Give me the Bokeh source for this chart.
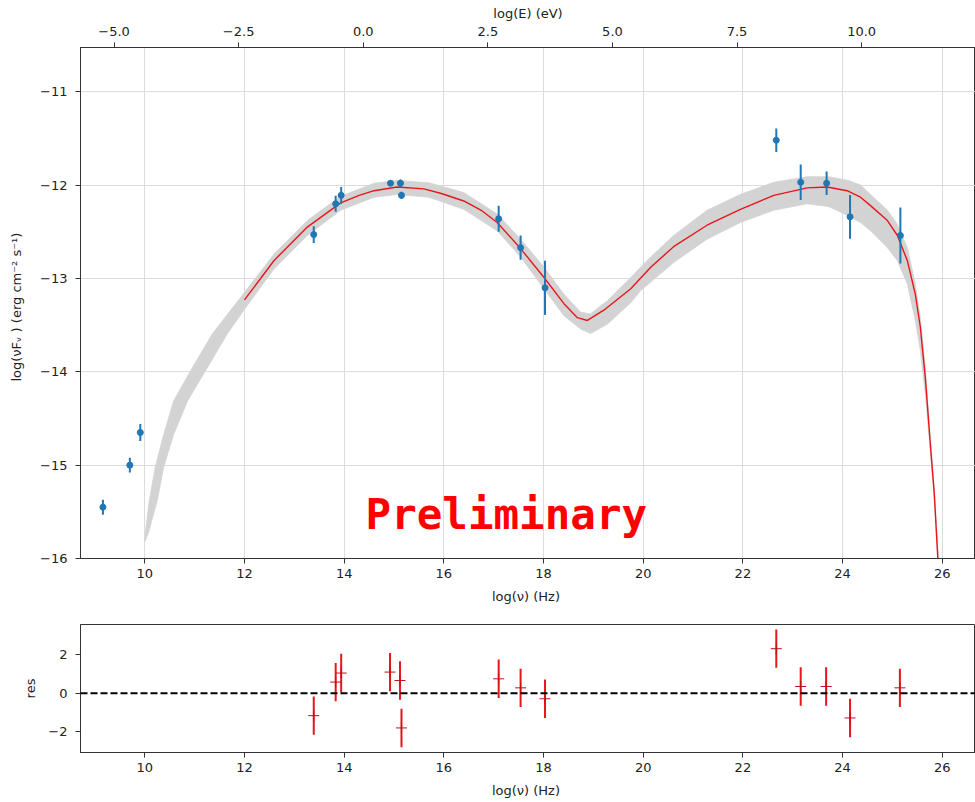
from bokeh.plotting import figure
from bokeh.layouts import column
from bokeh.models import Range1d, LinearAxis, FixedTicker, Label, Span, ColumnDataSource
from bokeh.embed import file_html
from bokeh.resources import INLINE

# ---------------- data ----------------
# SED data points: log(nu) [Hz], log(nuFnu), error
data_x = [9.16, 9.70, 9.91, 13.39, 13.83, 13.94, 14.93, 15.13, 15.15,
          17.10, 17.54, 18.03, 22.67, 23.16, 23.68, 24.15, 25.16]
data_y = [-15.45, -15.00, -14.65, -12.53, -12.20, -12.11, -11.98, -11.98, -12.11,
          -12.36, -12.67, -13.10, -11.52, -11.97, -11.98, -12.34, -12.54]
data_err = [0.08, 0.08, 0.09, 0.09, 0.085, 0.09, 0.02, 0.04, 0.04,
            0.14, 0.13, 0.29, 0.125, 0.19, 0.125, 0.235, 0.30]

# best-fit model curve
model_x = [12.0, 12.59, 13.26, 13.93, 14.30, 14.60, 15.06, 15.60, 15.95, 16.40, 16.75, 17.07, 17.54,
           18.01, 18.41, 18.68, 18.88, 19.21, 19.75, 20.15, 20.61, 21.28, 21.95,
           22.62, 23.29, 23.69, 24.09, 24.36, 24.56, 24.90, 25.10, 25.30, 25.46,
           25.56, 25.66, 25.76, 25.84, 25.91, 25.96]
model_y = [-13.23, -12.81, -12.45, -12.19, -12.11, -12.06, -12.02, -12.04, -12.09, -12.17, -12.27, -12.40, -12.68,
           -12.99, -13.27, -13.42, -13.45, -13.34, -13.11, -12.88, -12.66, -12.43, -12.26,
           -12.11, -12.03, -12.02, -12.06, -12.13, -12.22, -12.38, -12.54, -12.81, -13.17,
           -13.52, -14.06, -14.77, -15.31, -15.99, -16.60]

# confidence band: upper edge and lower edge
band_up_x = [10.00, 10.01, 10.09, 10.21, 10.38, 10.58, 10.96, 11.36, 12.00, 12.59,
             13.26, 13.93, 14.60, 15.06, 15.70, 16.40, 17.07, 17.54, 18.01, 18.41,
             18.74, 18.94, 19.28, 19.75, 20.15, 20.61, 21.28, 21.95, 22.62, 23.29,
             23.72, 24.12, 24.36, 24.56, 24.90, 25.10, 25.30, 25.46, 25.56, 25.66,
             25.76, 25.84, 25.92, 25.97]
band_up_y = [-15.82, -15.73, -15.38, -15.02, -14.67, -14.31, -13.95, -13.59, -13.15, -12.74,
             -12.38, -12.12, -11.98, -11.95, -11.975, -12.08, -12.31, -12.58, -12.88, -13.17,
             -13.36, -13.38, -13.24, -12.99, -12.77, -12.54, -12.27, -12.10, -11.97, -11.91,
             -11.91, -11.95, -12.00, -12.10, -12.27, -12.42, -12.67, -13.06, -13.42, -13.95,
             -14.70, -15.25, -15.95, -16.60]
band_lo_x = [10.00, 10.07, 10.25, 10.38, 10.58, 10.86, 11.26, 11.66, 12.00, 12.59,
             13.26, 13.93, 14.60, 15.06, 15.70, 16.40, 17.07, 17.54, 18.01, 18.41,
             18.74, 18.94, 19.28, 19.75, 19.95, 20.61, 21.28, 21.95, 22.62, 23.29,
             23.72, 24.12, 24.36, 24.56, 24.90, 25.10, 25.30, 25.46, 25.56, 25.66,
             25.76, 25.84, 25.92, 25.98]
band_lo_y = [-15.82, -15.73, -15.38, -15.02, -14.67, -14.31, -13.95, -13.59, -13.33, -12.90,
             -12.54, -12.27, -12.13, -12.10, -12.13, -12.26, -12.49, -12.77, -13.11, -13.40,
             -13.54, -13.59, -13.49, -13.26, -13.13, -12.83, -12.58, -12.40, -12.27, -12.20,
             -12.23, -12.33, -12.40, -12.49, -12.67, -12.81, -13.06, -13.45, -13.77, -14.24,
             -14.84, -15.35, -16.05, -16.60]

# residuals
res_x = [13.39, 13.83, 13.94, 14.92, 15.12, 15.15, 17.10, 17.54, 18.03,
         22.67, 23.16, 23.67, 24.15, 25.15]
res_y = [-1.17, 0.58, 1.05, 1.10, 0.66, -1.81, 0.75, 0.28, -0.29,
         2.32, 0.35, 0.35, -1.29, 0.28]
res_err = [1.0] * len(res_x)

# ticks
x_ticks = [10, 12, 14, 16, 18, 20, 22, 24, 26]
y_ticks = [-16, -15, -14, -13, -12, -11]
e_ticks = [-5.0, -2.5, 0.0, 2.5, 5.0, 7.5, 10.0]
res_ticks = [-2, 0, 2]
LOG_H_EV = -14.383  # log10(h) in eV s -> log(E) = log(nu) + LOG_H_EV

# ---------------- styling ----------------
FONT = "DejaVu Sans"
TXT = "#222222"
SPINE = "#333333"
X0, X1 = 8.71, 26.667


def mfmt(v, digits=0):
    s = f"{v:.{digits}f}"
    return s.replace("-", "\u2212")


def style_axis(ax, ticks, digits=0, tick_standoff=5, label_standoff=5):
    ax.ticker = FixedTicker(ticks=ticks)
    ax.major_label_overrides = {t: mfmt(t, digits) for t in ticks}
    ax.major_label_text_font = FONT
    ax.major_label_text_font_size = "13px"
    ax.major_label_text_color = TXT
    ax.axis_label_text_font = FONT
    ax.axis_label_text_font_size = "13px"
    ax.axis_label_text_font_style = "normal"
    ax.axis_label_text_color = TXT
    ax.axis_line_color = SPINE
    ax.major_tick_line_color = SPINE
    ax.major_tick_out = 5
    ax.major_tick_in = 0
    ax.minor_tick_line_color = None
    ax.major_label_standoff = tick_standoff
    ax.axis_label_standoff = label_standoff


# ---------------- main SED panel ----------------
p = figure(width=975, height=616, x_range=Range1d(X0, X1), y_range=Range1d(-16, -10.526),
           output_backend="svg", toolbar_location=None,
           min_border_left=80, min_border_right=0, min_border_top=47, min_border_bottom=58,
           x_axis_label="log(\u03bd)  (Hz)",
           y_axis_label="log(\u03bdF\u1d65 )  (erg cm\u207b\u00b2  s\u207b\u00b9)")
p.outline_line_color = SPINE
p.background_fill_color = "white"
p.border_fill_color = "white"

style_axis(p.xaxis[0], x_ticks, 0, 5, 8)
style_axis(p.yaxis[0], y_ticks, 0, 8, 13)
p.xgrid.ticker = FixedTicker(ticks=x_ticks)
p.ygrid.ticker = FixedTicker(ticks=y_ticks)
p.grid.grid_line_color = "#dcdcdc"
p.grid.grid_line_width = 1

p.extra_x_ranges = {"E": Range1d(X0 + LOG_H_EV, X1 + LOG_H_EV)}
top = LinearAxis(x_range_name="E", axis_label="log(E) (eV)")
style_axis(top, e_ticks, 1, 7, 3)
p.add_layout(top, "above")

# band
patch_x = band_up_x + band_lo_x[::-1]
patch_y = band_up_y + band_lo_y[::-1]
p.patch(patch_x, patch_y, fill_color="#d3d3d3", line_color="#d3d3d3", line_width=0.8)

# model
p.line(model_x, model_y, line_color="#e8161b", line_width=1.4)

# data
src = ColumnDataSource(dict(
    x=data_x, y=data_y,
    lo=[y - e for y, e in zip(data_y, data_err)],
    hi=[y + e for y, e in zip(data_y, data_err)]))
p.segment(x0="x", y0="lo", x1="x", y1="hi", source=src, line_color="#1f77b4", line_width=2)
p.scatter(x="x", y="y", source=src, size=6, fill_color="#1f77b4", line_color="#1f77b4")

prelim = Label(x=14.43, y=-15.53, text="Preliminary", text_color="red",
               text_font="DejaVu Sans Mono", text_font_style="bold",
               text_font_size="42.5px", text_baseline="alphabetic", text_align="left")
p.add_layout(prelim)

# ---------------- residual panel ----------------
r = figure(width=975, height=186, x_range=Range1d(X0, X1), y_range=Range1d(-3.09, 3.58),
           output_backend="svg", toolbar_location=None,
           min_border_left=80, min_border_right=0, min_border_top=8, min_border_bottom=50,
           x_axis_label="log(\u03bd)  (Hz)", y_axis_label="res")
r.outline_line_color = SPINE
r.grid.visible = False
style_axis(r.xaxis[0], x_ticks, 0, 5, 8)
style_axis(r.yaxis[0], res_ticks, 0, 8, 7)

r.add_layout(Span(location=0, dimension="width", line_color="black",
                  line_dash="7 3", line_width=2))
rsrc = ColumnDataSource(dict(
    x=res_x, y=res_y,
    lo=[y - e for y, e in zip(res_y, res_err)],
    hi=[y + e for y, e in zip(res_y, res_err)]))
r.segment(x0="x", y0="lo", x1="x", y1="hi", source=rsrc, line_color="#e8161b", line_width=2)
r.scatter(x="x", y="y", source=rsrc, marker="cross", size=11, line_color="#c0101a", line_width=1)

layout = column(p, r, spacing=0)
open("out.html", "w").write(file_html(layout, INLINE))
